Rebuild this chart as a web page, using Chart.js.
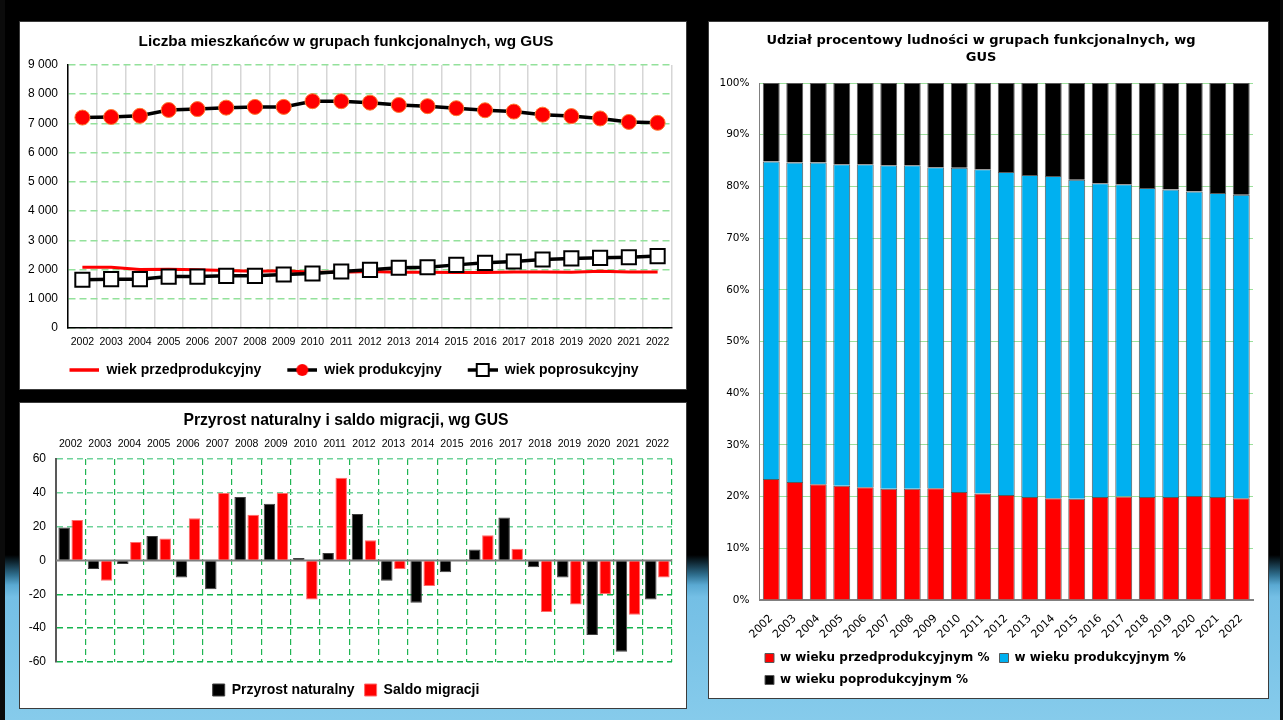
<!DOCTYPE html>
<html lang="pl">
<head>
<meta charset="utf-8">
<title>Ludność w grupach funkcjonalnych, wg GUS</title>
<script src="https://cdn.jsdelivr.net/npm/chart.js@4.4.0/dist/chart.umd.min.js"></script>
<style>
  html, body { margin: 0; padding: 0; }
  body {
    width: 1283px; height: 720px; position: relative; overflow: hidden;
    background: linear-gradient(to bottom, #000 0px, #000 555px, #0e2530 562px, #2f6f8f 575px,
                #5aa9d2 585px, #74bfe5 597px, #86cbeb 720px);
  }
  .edge { position: absolute; top: 0; bottom: 0; background: #0b0b0b; }
  .panel { position: absolute; background: #fff; border: 1px solid #3c3c3c; box-sizing: border-box; }
  .panel canvas { display: block; }
</style>
</head>
<body>
<div class="edge" style="left:0;width:5px"></div>
<div class="edge" style="right:0;width:3px"></div>

<div class="panel" style="left:19px;top:21px;width:668px;height:369px">
  <canvas id="populationChart" width="666" height="367"></canvas>
</div>
<div class="panel" style="left:19px;top:402px;width:668px;height:307px">
  <canvas id="balanceChart" width="666" height="305"></canvas>
</div>
<div class="panel" style="left:708px;top:21px;width:561px;height:678px">
  <canvas id="shareChart" width="559" height="676"></canvas>
</div>

<script>
// dane
const years = ['2002', '2003', '2004', '2005', '2006', '2007', '2008', '2009', '2010', '2011', '2012',
               '2013', '2014', '2015', '2016', '2017', '2018', '2019', '2020', '2021', '2022'];

// liczba mieszkańców
const preProductive = [2080, 2080, 2000, 2010, 1990, 1970, 1945, 1955, 1910, 1910, 1935,
                       1910, 1910, 1900, 1900, 1920, 1920, 1910, 1945, 1920, 1920];
const productive = [7200, 7220, 7260, 7460, 7490, 7540, 7565, 7565, 7760, 7760, 7710,
                    7630, 7590, 7520, 7450, 7405, 7300, 7250, 7170, 7050, 7020];
const postProductive = [1650, 1670, 1670, 1760, 1760, 1785, 1785, 1830, 1865, 1935, 1990,
                        2060, 2080, 2160, 2230, 2275, 2345, 2380, 2400, 2420, 2460];

// przyrost naturalny i saldo migracji
const naturalIncrease = [19.5, -5, -2, 14.5, -10, -17, 37.5, 33.5, 1.5, 4.5, 27.5,
                         -12, -25, -7, 6.5, 25.5, -4, -10, -44, -54, -23];
const netMigration = [24, -12, 11, 13, 25, 40, 27, 40, -23, 49, 12,
                      -5, -15, 0, 15, 7, -30.5, -26, -20, -32, -10];

// udział procentowy
const sharePre = [23.4, 22.8, 22.4, 22.1, 21.8, 21.5, 21.5, 21.6, 20.9, 20.6, 20.3,
                  19.9, 19.7, 19.6, 19.9, 20.0, 19.9, 19.9, 20.1, 19.9, 19.7];
const shareProd = [61.4, 61.8, 62.2, 62.2, 62.5, 62.6, 62.6, 62.1, 62.7, 62.7, 62.5,
                   62.3, 62.3, 61.7, 60.7, 60.4, 59.8, 59.5, 58.9, 58.8, 58.7];
const sharePost = [15.2, 15.4, 15.4, 15.7, 15.7, 15.9, 15.9, 16.3, 16.4, 16.7, 17.2,
                   17.8, 18.0, 18.7, 19.4, 19.6, 20.3, 20.6, 21.0, 21.3, 21.6];

Chart.defaults.font.family = "'Liberation Sans', Arial, sans-serif";
Chart.defaults.color = '#000';
Chart.defaults.animation = false;

// przesuwa legendę w poziomie
const legendShift = {
  id: 'legendShift',
  afterLayout(chart, args, opts) {
    const dx = opts.dx || 0;
    chart.legend.left += dx;
    chart.legend.right += dx;
  }
};

// ikonki legendy: linia z markerem
function legendIcon(color, marker) {
  const c = document.createElement('canvas');
  c.width = 46; c.height = 16;
  const g = c.getContext('2d');
  g.strokeStyle = color;
  g.lineWidth = 3.5;
  g.beginPath(); g.moveTo(16, 8); g.lineTo(46, 8); g.stroke();
  if (marker === 'circle') {
    g.fillStyle = '#ff0000';
    g.beginPath(); g.arc(31, 8, 6, 0, Math.PI * 2); g.fill();
  } else if (marker === 'square') {
    g.fillStyle = '#fff'; g.strokeStyle = '#000'; g.lineWidth = 2;
    g.fillRect(25, 2, 12, 12); g.strokeRect(25, 2, 12, 12);
  }
  return c;
}
const icons = [legendIcon('#ff0000'), legendIcon('#000', 'circle'), legendIcon('#000', 'square')];

const fmtThousands = v => v >= 1000 ? Math.floor(v / 1000) + ' ' + String(v % 1000).padStart(3, '0') : String(v);

new Chart(document.getElementById('populationChart'), {
  type: 'line',
  data: {
    labels: years,
    datasets: [{
      label: 'wiek przedprodukcyjny',
      data: preProductive,
      borderColor: '#ff0000',
      borderWidth: 3,
      pointRadius: 0,
      order: 2
    }, {
      label: 'wiek produkcyjny',
      data: productive,
      borderColor: '#000',
      borderWidth: 3.5,
      pointRadius: 7.5,
      pointBackgroundColor: '#ff0000',
      pointBorderColor: '#ff7a30',
      pointBorderWidth: 1,
      order: 1
    }, {
      label: 'wiek poprosukcyjny',
      data: postProductive,
      borderColor: '#000',
      borderWidth: 3.5,
      pointStyle: 'rect',
      pointRadius: 10,
      pointBackgroundColor: '#fff',
      pointBorderColor: '#000',
      pointBorderWidth: 2,
      order: 0
    }]
  },
  options: {
    responsive: false,
    layout: { padding: { left: 0, right: 14, top: 0, bottom: 2 } },
    plugins: {
      title: {
        display: true,
        text: 'Liczba mieszkańców w grupach funkcjonalnych, wg GUS',
        font: { size: 15.3, weight: 'bold' },
        padding: { top: 10.8, bottom: 13.8 }
      },
      legend: {
        position: 'bottom',
        labels: {
          usePointStyle: true,
          pointStyleWidth: 46,
          font: { size: 14, weight: 'bold' },
          generateLabels: chart => chart.data.datasets.map((ds, i) => ({
            text: ds.label, pointStyle: icons[i], datasetIndex: i,
            fillStyle: 'transparent', strokeStyle: 'transparent', lineWidth: 0, hidden: false
          }))
        }
      },
      legendShift: { dx: 0 },
      tooltip: { enabled: false }
    },
    scales: {
      x: {
        offset: true,
        grid: { offset: true, color: '#d6d6d6', lineWidth: 1.5, drawTicks: false },
        border: { color: '#000', width: 1.5 },
        ticks: { font: { size: 10.5 }, padding: 8, autoSkip: false, minRotation: 0, maxRotation: 0 },
        afterFit: s => { s.height = 25; }
      },
      y: {
        min: 0, max: 9000,
        grid: { color: '#93e19b', lineWidth: 1.5, drawTicks: false },
        border: { color: '#000', width: 1.5, dash: [7, 4] },
        ticks: { stepSize: 1000, font: { size: 12 }, padding: 10, callback: v => fmtThousands(v) },
        afterFit: s => { s.width = 48; }
      }
    }
  },
  plugins: [legendShift]
});

// linia zera
const zeroLine = {
  id: 'zeroLine',
  beforeDatasetsDraw(chart) {
    const { ctx, chartArea, scales } = chart;
    const y0 = scales.y.getPixelForValue(0);
    ctx.save();
    ctx.strokeStyle = '#7f7f7f';
    ctx.lineWidth = 2;
    ctx.beginPath();
    ctx.moveTo(chartArea.left, y0);
    ctx.lineTo(chartArea.right, y0);
    ctx.stroke();
    ctx.restore();
  }
};

new Chart(document.getElementById('balanceChart'), {
  type: 'bar',
  data: {
    labels: years,
    datasets: [{
      label: 'Przyrost naturalny',
      data: naturalIncrease,
      backgroundColor: '#000',
      borderColor: '#404040',
      borderWidth: 1,
      categoryPercentage: 0.89,
      barPercentage: 0.88
    }, {
      label: 'Saldo migracji',
      data: netMigration,
      backgroundColor: '#ff0000',
      borderColor: '#ff6b6b',
      borderWidth: 1,
      categoryPercentage: 0.89,
      barPercentage: 0.88
    }]
  },
  options: {
    responsive: false,
    layout: { padding: { left: 0, right: 14, top: 0, bottom: 1 } },
    plugins: {
      title: {
        display: true,
        text: 'Przyrost naturalny i saldo migracji, wg GUS',
        font: { size: 15.7, weight: 'bold' },
        padding: { top: 8.6, bottom: 3.6 }
      },
      legend: {
        position: 'bottom',
        labels: { boxWidth: 12, boxHeight: 12, font: { size: 14, weight: 'bold' } }
      },
      tooltip: { enabled: false }
    },
    scales: {
      x: {
        position: 'top',
        grid: { color: '#1fb552', lineWidth: 1.2, drawTicks: false },
        border: { display: false, dash: [6, 4] },
        ticks: { font: { size: 10.5 }, padding: 9, autoSkip: false, minRotation: 0, maxRotation: 0 },
        afterFit: s => { s.height = 25; }
      },
      xb: {
        type: 'category',
        position: 'bottom',
        grid: { display: false },
        border: { display: false },
        ticks: { display: false },
        afterFit: s => { s.height = 11; }
      },
      y: {
        min: -60, max: 60,
        grid: {
          drawTicks: false, lineWidth: 1.5,
          color: c => c.tick && c.tick.value === 0 ? 'rgba(0,0,0,0)' : (c.tick && c.tick.value > 0 ? '#6fd39a' : '#14b44e')
        },
        border: { color: '#595959', width: 2, dash: [6, 4] },
        ticks: { stepSize: 20, font: { size: 12 }, padding: 10 },
        afterFit: s => { s.width = 36; }
      }
    }
  },
  plugins: [zeroLine]
});

new Chart(document.getElementById('shareChart'), {
  type: 'bar',
  data: {
    labels: years,
    datasets: [{
      label: 'w wieku przedprodukcyjnym %',
      data: sharePre,
      backgroundColor: '#ff0000'
    }, {
      label: 'w wieku produkcyjnym %',
      data: shareProd,
      backgroundColor: '#00b0f0'
    }, {
      label: 'w wieku poprodukcyjnym %',
      data: sharePost,
      backgroundColor: '#000'
    }]
  },
  options: {
    responsive: false,
    datasets: {
      bar: { borderColor: '#595959', borderWidth: 1, categoryPercentage: 0.9, barPercentage: 0.8 }
    },
    layout: { padding: { left: 0, right: 15, top: 0, bottom: 2 } },
    plugins: {
      title: {
        display: true,
        text: ['Udział procentowy ludności w grupach funkcjonalnych, wg', 'GUS'],
        font: { family: "'DejaVu Sans', Verdana, sans-serif", size: 13, weight: 'bold', lineHeight: 1.3 },
        padding: { top: 10.5, bottom: 16.7 }
      },
      legend: {
        position: 'bottom',
        align: 'start',
        labels: {
          boxWidth: 9, boxHeight: 9,
          font: { family: "'DejaVu Sans', Verdana, sans-serif", size: 12, weight: 'bold' }
        }
      },
      legendShift: { dx: 46 },
      tooltip: { enabled: false }
    },
    scales: {
      x: {
        stacked: true,
        grid: { display: false },
        border: { color: '#808080', width: 2 },
        ticks: {
          autoSkip: false, minRotation: 45, maxRotation: 45, padding: 4,
          font: { family: "'DejaVu Sans', Verdana, sans-serif", size: 11 }
        },
        afterFit: s => { s.height = 42; }
      },
      y: {
        stacked: true,
        min: 0, max: 100,
        grid: { color: '#9be09b', lineWidth: 1, drawTicks: false },
        border: { color: '#808080', width: 1 },
        ticks: {
          stepSize: 10, padding: 10, callback: v => v + '%',
          font: { family: "'DejaVu Sans', Verdana, sans-serif", size: 10.5 }
        },
        afterFit: s => { s.width = 50.5; }
      }
    }
  },
  plugins: [legendShift]
});
</script>
</body>
</html>
